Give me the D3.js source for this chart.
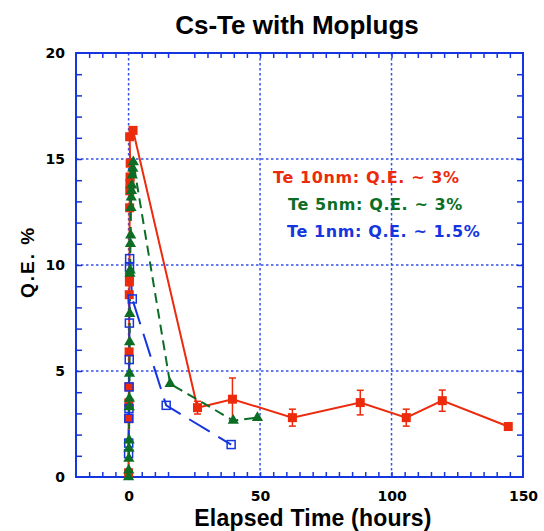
<!DOCTYPE html>
<html>
<head>
<meta charset="utf-8">
<script src="https://cdn.jsdelivr.net/npm/d3@7"></script>
<style>
  body { margin: 0; background: #fff; }
  svg { display: block; }
</style>
</head>
<body>
<script>
// data (time in hours, Q.E. in %)
var redTime  = [0, 0.05, 0.1, 0.15, 0.2, 0.25, 0.3, 0.35, 0.4, 0.45, 0.5, 0.55, 0.6, 0.4, 1.7, 26.2, 39.5, 62.3, 88.1, 105.6, 119.3, 144.4];
var redQE    = [0.2, 2.75, 3.5, 4.25, 5.9, 8.6, 9.2, 9.4, 12.7, 13.5, 13.85, 14.15, 14.8, 16.05, 16.35, 3.27, 3.67, 2.8, 3.51, 2.8, 3.6, 2.38];
var redErr   = [0, 0, 0, 0, 0, 0, 0, 0, 0, 0, 0, 0, 0, 0, 0, 0.3, 1.0, 0.4, 0.58, 0.4, 0.5, 0];

var greenTime = [0, 0.05, 0.1, 0.15, 0.2, 0.25, 0.3, 0.35, 0.4, 0.45, 0.5, 0.6, 0.7, 0.8, 0.9, 1.0, 1.1, 1.2, 1.4, 1.6, 1.8, 15.8, 39.8, 49.0];
var greenQE   = [0, 0.32, 0.87, 1.34, 1.73, 3.3, 3.7, 4.88, 6.37, 7.7, 9.6, 9.75, 11.0, 11.4, 12.7, 13.2, 13.5, 13.76, 14.23, 14.55, 14.86, 4.4, 2.66, 2.8];

var blueTime = [0, 0.05, 0.1, 0.15, 0.2, 0.25, 0.3, 0.35, 0.4, 1.4, 14.3, 39.0];
var blueQE   = [1.1, 1.6, 2.77, 3.23, 4.25, 5.54, 7.26, 9.9, 10.3, 8.4, 3.38, 1.53];

var legendText = ["Te 10nm: Q.E. ~ 3%", "Te 5nm: Q.E. ~ 3%", "Te 1nm: Q.E. ~ 1.5%"];
var xLabels = [0, 50, 100, 150];
var yLabels = [0, 5, 10, 15, 20];

var RED = "#ec2a0c", GREEN = "#0b6e24", BLUE = "#1535e0";

//margins
var margin = { left: 76, right: 21, top: 53, bottom: 54 },
    width = 544 - margin.left - margin.right,
    height = 531 - margin.top - margin.bottom;

var root = d3.select("body").append("svg")
    .attr("width", 544)
    .attr("height", 531);

var svg = root.append("g")
    .attr("transform", "translate(" + margin.left + "," + margin.top + ")");

var x = d3.scaleLinear().domain([-20, 150]).range([0, width]);
var y = d3.scaleLinear().domain([0, 20]).range([height, 0]);

function rows(t, q, e) {
    return t.map(function(d, i) { return { t: d, q: q[i], e: e ? e[i] : 0 }; });
}
var red = rows(redTime, redQE, redErr),
    green = rows(greenTime, greenQE),
    blue = rows(blueTime, blueQE);

// grid
svg.append("g").selectAll("line")
    .data([0, 50, 100]).enter().append("line")
    .attr("x1", d => x(d)).attr("x2", d => x(d))
    .attr("y1", 0).attr("y2", height)
    .attr("stroke", "#3550e8").attr("stroke-width", 1.5)
    .attr("stroke-dasharray", "2.5,2.5");
svg.append("g").selectAll("line")
    .data([5, 10, 15]).enter().append("line")
    .attr("y1", d => y(d)).attr("y2", d => y(d))
    .attr("x1", 0).attr("x2", width)
    .attr("stroke", "#3550e8").attr("stroke-width", 1.5)
    .attr("stroke-dasharray", "2.5,2.5");

// axes: ticks inside on all four sides
var xTicks = d3.range(-15, 150, 5), yTicks = d3.range(1, 20, 1);
function styleAxis(g) {
    g.select(".domain").remove();
    g.selectAll(".tick line").attr("stroke", BLUE).attr("stroke-width", 1.5);
    g.selectAll("text").attr("fill", "#000")
        .style("font-family", "DejaVu Sans").style("font-weight", "bold").style("font-size", "14px");
}
svg.append("g").attr("transform", "translate(0," + height + ")")
    .call(d3.axisBottom(x).tickValues(xTicks).tickSizeInner(-5).tickSizeOuter(0).tickPadding(14)
        .tickFormat(d => xLabels.indexOf(d) >= 0 ? d : ""))
    .call(styleAxis);
svg.append("g").attr("transform", "translate(0," + height + ")")
    .call(d3.axisBottom(x).tickValues([150]).tickSize(0).tickPadding(14))
    .call(styleAxis);
svg.append("g")
    .call(d3.axisTop(x).tickValues(xTicks).tickSizeInner(-5).tickSizeOuter(0).tickFormat(""))
    .call(styleAxis);
svg.append("g")
    .call(d3.axisLeft(y).tickValues(yTicks.concat([0, 20])).tickSizeInner(-6).tickSizeOuter(0).tickPadding(11)
        .tickFormat(d => yLabels.indexOf(d) >= 0 ? d : ""))
    .call(styleAxis);
svg.selectAll(".tick").filter(d => d === 0 || d === 20).select("line").remove();
svg.append("g").attr("transform", "translate(" + width + ",0)")
    .call(d3.axisRight(y).tickValues(yTicks).tickSizeInner(-6).tickSizeOuter(0).tickFormat(""))
    .call(styleAxis);

svg.append("rect")
    .attr("width", width).attr("height", height)
    .attr("fill", "none").attr("stroke", BLUE).attr("stroke-width", 2);

// lines
var line = d3.line().x(d => x(d.t)).y(d => y(d.q));

svg.append("path").datum(red)
    .attr("d", line).attr("fill", "none")
    .attr("stroke", RED).attr("stroke-width", 2);
svg.append("path").datum(blue)
    .attr("d", line).attr("fill", "none")
    .attr("stroke", BLUE).attr("stroke-width", 2)
    .attr("stroke-dasharray", "24,10");
svg.append("path").datum(green)
    .attr("d", line).attr("fill", "none")
    .attr("stroke", GREEN).attr("stroke-width", 2)
    .attr("stroke-dasharray", "10,6");

// error bars
var eb = svg.append("g").selectAll("g")
    .data(red.filter(d => d.e > 0)).enter().append("g")
    .attr("stroke", RED).attr("stroke-width", 1.5);
eb.append("line")
    .attr("x1", d => x(d.t)).attr("x2", d => x(d.t))
    .attr("y1", d => y(d.q + d.e)).attr("y2", d => y(d.q - d.e));
eb.append("line")
    .attr("x1", d => x(d.t) - 3.5).attr("x2", d => x(d.t) + 3.5)
    .attr("y1", d => y(d.q + d.e)).attr("y2", d => y(d.q + d.e));
eb.append("line")
    .attr("x1", d => x(d.t) - 3.5).attr("x2", d => x(d.t) + 3.5)
    .attr("y1", d => y(d.q - d.e)).attr("y2", d => y(d.q - d.e));

// markers
svg.append("g").selectAll("rect")
    .data(red).enter().append("rect")
    .attr("x", d => x(d.t) - 4.5).attr("y", d => y(d.q) - 4.5)
    .attr("width", 9).attr("height", 9)
    .attr("fill", RED);
svg.append("g").selectAll("rect")
    .data(blue).enter().append("rect")
    .attr("x", d => x(d.t) - 4).attr("y", d => y(d.q) - 4)
    .attr("width", 8).attr("height", 8)
    .attr("fill", "none").attr("stroke", BLUE).attr("stroke-width", 1.5);
var tri = d3.symbol().type(d3.symbolTriangle).size(55);
svg.append("g").selectAll("path")
    .data(green).enter().append("path")
    .attr("d", tri)
    .attr("transform", d => "translate(" + x(d.t) + "," + y(d.q) + ")")
    .attr("fill", GREEN);

// legend text
var legColors = [RED, GREEN, BLUE], legX = [273, 288, 287], legY = [183, 210, 237];
root.append("g").selectAll("text")
    .data(legendText).enter().append("text")
    .attr("x", (d, i) => legX[i]).attr("y", (d, i) => legY[i])
    .attr("fill", (d, i) => legColors[i])
    .style("font-family", "DejaVu Sans").style("font-weight", "bold").style("font-size", "16px")
    .style("letter-spacing", "0.6px")
    .text(d => d);

// titles
root.append("text")
    .attr("x", 297).attr("y", 34)
    .attr("text-anchor", "middle")
    .style("font-family", "Liberation Sans").style("font-weight", "bold").style("font-size", "26px")
    .text("Cs-Te with Moplugs");
root.append("text")
    .attr("x", 313).attr("y", 525.5)
    .attr("text-anchor", "middle")
    .style("font-family", "Liberation Sans").style("font-weight", "bold").style("font-size", "23px")
    .style("letter-spacing", "0.2px")
    .text("Elapsed Time (hours)");
root.append("text")
    .attr("transform", "translate(34,262) rotate(-90)")
    .attr("text-anchor", "middle")
    .style("font-family", "Liberation Sans").style("font-weight", "bold").style("font-size", "19px")
    .style("letter-spacing", "2px")
    .text("Q.E. %");
</script>
</body>
</html>
